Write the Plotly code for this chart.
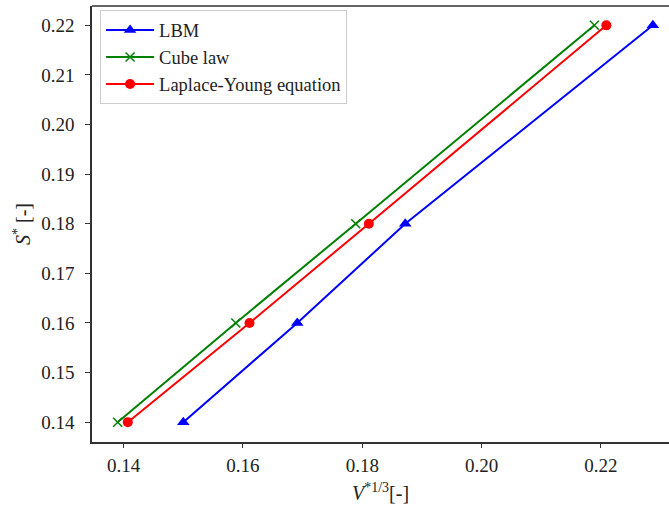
import plotly.graph_objects as go

# Data
s_values = [0.14, 0.16, 0.18, 0.22]
lbm_x = [0.150, 0.1691, 0.1872, 0.2287]
cube_x = [0.1390, 0.1588, 0.1789, 0.2189]
laplace_x = [0.1407, 0.1611, 0.1811, 0.2209]

x_ticks = [0.14, 0.16, 0.18, 0.20, 0.22]
x_ticklabels = ["0.14", "0.16", "0.18", "0.20", "0.22"]
y_ticks = [0.14, 0.15, 0.16, 0.17, 0.18, 0.19, 0.20, 0.21, 0.22]
y_ticklabels = ["0.14", "0.15", "0.16", "0.17", "0.18", "0.19", "0.20", "0.21", "0.22"]

FONT = "Liberation Serif"

fig = go.Figure()
fig.add_trace(go.Scatter(
    x=lbm_x, y=s_values, name="LBM", mode="lines+markers",
    line=dict(color="#0000ff", width=2),
    marker=dict(symbol="triangle-up", size=11, color="#0000ff"),
))
fig.add_trace(go.Scatter(
    x=cube_x, y=s_values, name="Cube law", mode="lines+markers",
    line=dict(color="#008000", width=2),
    marker=dict(symbol="x-thin", size=9, color="#008000",
                line=dict(color="#008000", width=1.5)),
))
fig.add_trace(go.Scatter(
    x=laplace_x, y=s_values, name="Laplace-Young equation", mode="lines+markers",
    line=dict(color="#ff0000", width=2),
    marker=dict(symbol="circle", size=10, color="#ff0000"),
))

axis_common = dict(
    showgrid=False, zeroline=False, showline=True, linecolor="#333333",
    linewidth=1.5, ticks="outside", tickwidth=1.2, tickcolor="#333333",
    tickfont=dict(family=FONT, size=19, color="#222222"),
    automargin=False,
)

fig.update_layout(
    width=669, height=506,
    margin=dict(l=92, r=0, t=6, b=64),
    paper_bgcolor="white", plot_bgcolor="white",
    font=dict(family=FONT, color="#222222"),
    xaxis=dict(
        range=[0.1347, 0.2314], tickvals=x_ticks, ticktext=x_ticklabels,
        ticklen=4, ticklabelstandoff=1,
        **axis_common,
    ),
    yaxis=dict(
        range=[0.1360, 0.2239], tickvals=y_ticks, ticktext=y_ticklabels,
        ticklen=5, ticklabelstandoff=7,
        title=dict(text="<i>S</i><sup>*</sup> [-]", font=dict(family=FONT, size=20), standoff=5),
        **axis_common,
    ),
    legend=dict(
        x=0.014, y=0.99, xanchor="left", yanchor="top",
        bgcolor="rgba(255,255,255,0.8)", bordercolor="#cccccc", borderwidth=1,
        itemwidth=48,
        font=dict(family=FONT, size=18.5, color="#222222"),
    ),
    showlegend=True,
)

# x-axis title as an annotation so it sits just above the bottom edge
fig.add_annotation(
    text="<i>V</i><sup>*1/3</sup>[-]", xref="paper", yref="paper",
    x=0.5, y=0, xanchor="center", yanchor="middle", yshift=-50,
    showarrow=False, font=dict(family=FONT, size=20, color="#222222"),
    borderpad=0,
)

# top spine (right spine is cropped off in the reference)
fig.add_shape(type="line", xref="paper", yref="paper", x0=0, x1=1, y0=1, y1=1,
              line=dict(color="#333333", width=1.5))

fig.write_html(
    "out.html",
    config={"displayModeBar": False},
    post_script="document.body.style.margin='0px';document.body.style.overflow='hidden';",
)
